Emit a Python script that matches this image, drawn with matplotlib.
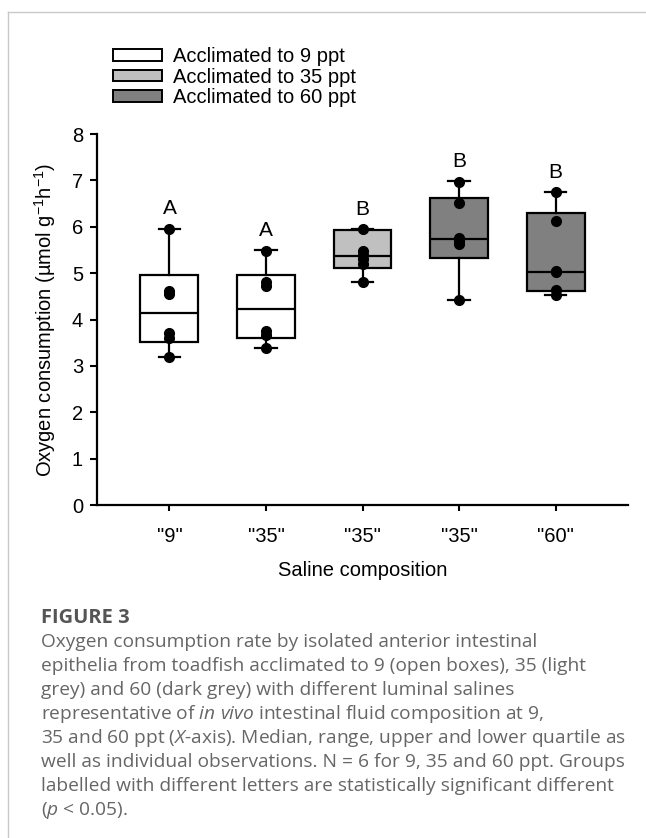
import matplotlib
matplotlib.use("Agg")
import matplotlib.pyplot as plt
from matplotlib.patches import Patch
from matplotlib.lines import Line2D

plt.rcParams['font.family'] = ['Liberation Sans', 'DejaVu Sans']
plt.rcParams['mathtext.default'] = 'regular'
plt.rcParams['mathtext.fontset'] = 'custom'
plt.rcParams['mathtext.it'] = 'Open Sans:italic'
plt.rcParams['mathtext.rm'] = 'Liberation Sans'

# saline composition on x axis, one box per acclimation/saline pair
saline_labels = ['"9"', '"35"', '"35"', '"35"', '"60"']
acclimation = [9, 9, 35, 60, 60]
letters = ["A", "A", "B", "B", "B"]

# box statistics (umol g-1 h-1)
q1 = [3.51, 3.61, 5.11, 5.33, 4.62]
medians = [4.14, 4.23, 5.38, 5.73, 5.03]
q3 = [4.95, 4.97, 5.93, 6.62, 6.30]
whisker_lo = [3.20, 3.38, 4.81, 4.43, 4.53]
whisker_hi = [5.96, 5.49, 5.95, 6.98, 6.75]

# individual observations (N = 6)
obs_9_9 = [5.96, 4.62, 4.55, 3.71, 3.60, 3.20]
obs_9_35 = [5.48, 4.81, 4.72, 3.75, 3.67, 3.38]
obs_35_35 = [5.95, 5.47, 5.40, 5.30, 5.20, 4.81]
obs_60_35 = [6.97, 6.52, 5.76, 5.70, 5.62, 4.43]
obs_60_60 = [6.75, 6.13, 5.04, 5.02, 4.64, 4.53]
observations = [obs_9_9, obs_9_35, obs_35_35, obs_60_35, obs_60_60]

legend_labels = ["Acclimated to 9 ppt", "Acclimated to 35 ppt", "Acclimated to 60 ppt"]
fill = {9: "white", 35: "#c0c0c0", 60: "#808080"}

fig = plt.figure(figsize=(6.46, 8.38), dpi=100)
ax = fig.add_axes([97 / 646, 1 - 505 / 838, 531 / 646, 371 / 838])

stats = []
for i in range(len(medians)):
    stats.append(dict(med=medians[i], q1=q1[i], q3=q3[i],
                      whislo=whisker_lo[i], whishi=whisker_hi[i], fliers=[]))

positions = list(range(1, len(stats) + 1))
bp = ax.bxp(stats, positions=positions, widths=0.6, patch_artist=True,
            showfliers=False, capwidths=0.22,
            boxprops=dict(linewidth=1.6, edgecolor="black"),
            medianprops=dict(color="black", linewidth=1.6),
            whiskerprops=dict(color="black", linewidth=1.6),
            capprops=dict(color="black", linewidth=1.6))
for box, acc in zip(bp["boxes"], acclimation):
    box.set_facecolor(fill[acc])

for pos, vals in zip(positions, observations):
    ax.plot([pos] * len(vals), vals, "o", color="black", markersize=7, zorder=5)

for pos, top, letter in zip(positions, whisker_hi, letters):
    ax.text(pos, top + 0.43, letter, ha="center", va="center", fontsize=15)

ax.set_xlim(0.25, 5.75)
ax.set_ylim(0, 8)
ax.set_xticks(positions)
ax.set_xticklabels(saline_labels)
ax.set_yticks(range(0, 9))
ax.tick_params(axis="y", labelsize=14.5, length=5, width=1.5, pad=5)
ax.tick_params(axis="x", labelsize=14.5, length=4, width=1.5, pad=12)
ax.spines["top"].set_visible(False)
ax.spines["right"].set_visible(False)
ax.spines["left"].set_linewidth(1.6)
ax.spines["bottom"].set_linewidth(1.6)

ax.set_xlabel("Saline composition", fontsize=14.5)
ax.xaxis.set_label_coords(0.5, -0.152)
ax.set_ylabel("Oxygen consumption (µmol g$^{-1}$h$^{-1}$)", fontsize=14.5)
ax.yaxis.set_label_coords(-0.073, 0.5)

handles = [Patch(facecolor=fill[a], edgecolor="black", linewidth=1.4) for a in (9, 35, 60)]
fig.legend(handles, legend_labels, loc="upper left", bbox_to_anchor=(113 / 646, 1 - 47 / 838),
           frameon=False, fontsize=14.5, handlelength=2.45, handleheight=0.5,
           handletextpad=0.55, labelspacing=0.08, borderpad=0, borderaxespad=0)

# page frame lines
fig.add_artist(Line2D([8 / 646, 1], [1 - 12 / 838, 1 - 12 / 838], color="#c8c8c8", linewidth=1))
fig.add_artist(Line2D([8 / 646, 8 / 646], [0, 1 - 12 / 838], color="#c8c8c8", linewidth=1))

caption_lines = [
    "Oxygen consumption rate by isolated anterior intestinal",
    "epithelia from toadfish acclimated to 9 (open boxes), 35 (light",
    "grey) and 60 (dark grey) with different luminal salines",
    "representative of $\\mathit{in\\ vivo}$ intestinal fluid composition at 9,",
    "35 and 60 ppt ($\\mathit{X}$-axis). Median, range, upper and lower quartile as",
    "well as individual observations. N = 6 for 9, 35 and 60 ppt. Groups",
    "labelled with different letters are statistically significant different",
    "($\\mathit{p}$ < 0.05).",
]
fig.text(41 / 646, 1 - 618 / 838, "FIGURE 3", fontsize=14.5, fontweight="bold",
         color="#555555", family="Open Sans", va="center")
for k, line in enumerate(caption_lines):
    fig.text(41 / 646, 1 - (642 + 24 * k) / 838, line, fontsize=13.8,
             color="#666666", family="Open Sans", va="center")

fig.savefig("out.png", dpi=100)
